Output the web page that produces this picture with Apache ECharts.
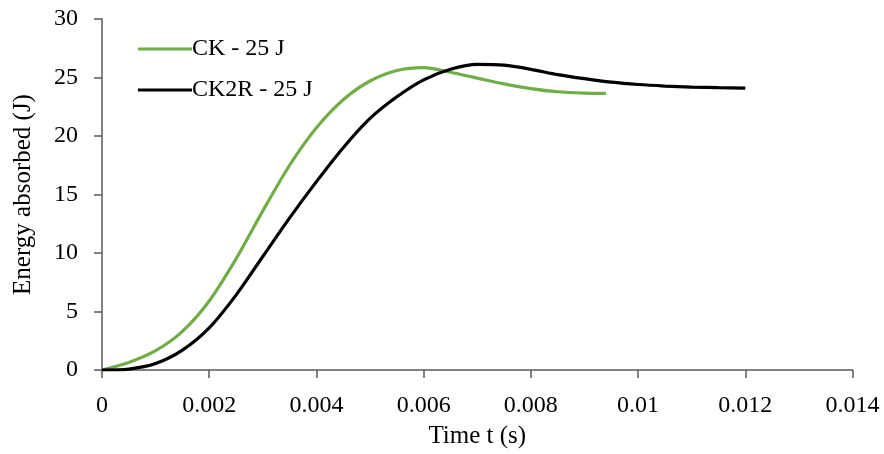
<!DOCTYPE html>
<html>
<head>
<meta charset="utf-8">
<script src="https://cdn.jsdelivr.net/npm/echarts@6/dist/echarts.min.js"></script>
<style>html,body{margin:0;padding:0;background:#fff}#c{width:884px;height:454px}</style>
</head>
<body>
<div id="c"></div>
<script>
const seriesNames = ['CK - 25 J', 'CK2R - 25 J'];
const ckTime = [0, 0.0005, 0.001, 0.0015, 0.002, 0.0025, 0.003, 0.0035, 0.004, 0.0045, 0.005, 0.0055, 0.006, 0.0065, 0.007, 0.0075, 0.008, 0.0085, 0.009, 0.0094];
const ckEnergy = [0, 0.65, 1.65, 3.3, 5.9, 9.5, 13.6, 17.5, 20.7, 23.1, 24.7, 25.6, 25.85, 25.45, 24.95, 24.45, 24.05, 23.78, 23.67, 23.65];
const ck2rTime = [0, 0.0005, 0.001, 0.0015, 0.002, 0.0025, 0.003, 0.0035, 0.004, 0.0045, 0.005, 0.0055, 0.006, 0.0065, 0.007, 0.0075, 0.008, 0.0085, 0.009, 0.0095, 0.01, 0.0105, 0.011, 0.0115, 0.012];
const ck2rEnergy = [0, 0.08, 0.55, 1.7, 3.6, 6.4, 9.7, 13.0, 16.1, 19.0, 21.5, 23.35, 24.8, 25.7, 26.12, 26.05, 25.7, 25.25, 24.9, 24.6, 24.4, 24.27, 24.18, 24.13, 24.1];
const xTitle = 'Time t (s)';
const yTitle = 'Energy absorbed (J)';

const font = '"Liberation Serif", "DejaVu Serif", serif';
const axisColor = '#595959';
const zip = (a, b) => a.map((v, i) => [v, b[i]]);

const chart = echarts.init(document.getElementById('c'), null, {renderer: 'canvas'});
chart.setOption({
  animation: false,
  backgroundColor: '#fff',
  grid: {left: 102, right: 31.5, top: 19, bottom: 84},
  legend: {
    orient: 'vertical', left: 133, top: 32,
    itemWidth: 54, itemHeight: 3, itemGap: 17,
    icon: 'rect',
    textStyle: {fontFamily: font, fontSize: 24, color: '#000', padding: [0, 0, 0, -5]},
    data: seriesNames
  },
  xAxis: {
    type: 'value', min: 0, max: 0.014, interval: 0.002,
    name: xTitle, nameLocation: 'middle', nameGap: 54,
    nameTextStyle: {fontFamily: font, fontSize: 25, color: '#000'},
    axisLine: {lineStyle: {color: axisColor, width: 1.5}},
    axisTick: {show: true, length: 8, lineStyle: {color: axisColor, width: 1.5}},
    axisLabel: {fontFamily: font, fontSize: 24, color: '#000', margin: 24,
      formatter: v => String(+v.toFixed(4))},
    splitLine: {show: false}
  },
  yAxis: {
    type: 'value', min: 0, max: 30, interval: 5,
    name: yTitle, nameLocation: 'middle', nameGap: 66, nameRotate: 90,
    nameTextStyle: {fontFamily: font, fontSize: 25, color: '#000'},
    axisLine: {show: true, lineStyle: {color: axisColor, width: 1.5}},
    axisTick: {show: true, length: 8, lineStyle: {color: axisColor, width: 1.5}},
    axisLabel: {fontFamily: font, fontSize: 24, color: '#000', margin: 24},
    splitLine: {show: false}
  },
  series: [
    {name: seriesNames[0], type: 'line', data: zip(ckTime, ckEnergy), smooth: 0.3, showSymbol: false,
     lineStyle: {color: '#70AD47', width: 3.2}, itemStyle: {color: '#70AD47'}},
    {name: seriesNames[1], type: 'line', data: zip(ck2rTime, ck2rEnergy), smooth: 0.3, showSymbol: false,
     lineStyle: {color: '#000', width: 3.2}, itemStyle: {color: '#000'}}
  ]
});
</script>
</body>
</html>
